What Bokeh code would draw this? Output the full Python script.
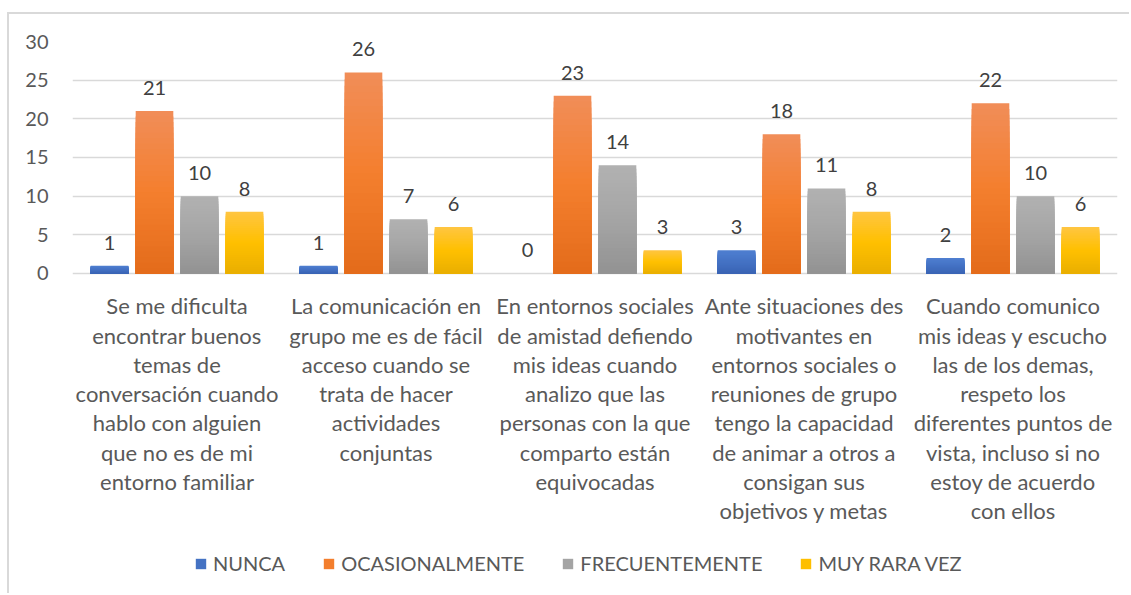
import numpy as np
from bokeh.plotting import figure
from bokeh.models import ColumnDataSource, Legend, LegendItem, FixedTicker, Range1d
from bokeh.embed import file_html
from bokeh.resources import INLINE
from bokeh.core.properties import value

# ---------------- data ----------------
categories = [
    "Se me dificulta\nencontrar buenos\ntemas de\nconversación cuando\nhablo con alguien\nque no es de mi\nentorno familiar",
    "La comunicación en\ngrupo me es de fácil\nacceso cuando se\ntrata de hacer\nactividades\nconjuntas",
    "En entornos sociales\nde amistad defiendo\nmis ideas cuando\nanalizo que las\npersonas con la que\ncomparto están\nequivocadas",
    "Ante situaciones des\nmotivantes en\nentornos sociales o\nreuniones de grupo\ntengo la capacidad\nde animar a otros a\nconsigan sus\nobjetivos y metas",
    "Cuando comunico\nmis ideas y escucho\nlas de los demas,\nrespeto los\ndiferentes puntos de\nvista, incluso si no\nestoy de acuerdo\ncon ellos",
]
series_names = ["NUNCA", "OCASIONALMENTE", "FRECUENTEMENTE", "MUY RARA VEZ"]
nunca = [1, 1, 0, 3, 2]
ocasionalmente = [21, 26, 23, 18, 22]
frecuentemente = [10, 7, 14, 11, 10]
muy_rara_vez = [8, 6, 3, 8, 6]
y_ticks = [0, 5, 10, 15, 20, 25, 30]

series_values = [nunca, ocasionalmente, frecuentemente, muy_rara_vez]
# gradient stops (top, middle, bottom)
gradients = [
    ("#4F7FD0", "#4472C4", "#3A64B4"),
    ("#F18D57", "#F47F2E", "#E46C1B"),
    ("#B1B1B1", "#A5A5A5", "#939393"),
    ("#FFC540", "#FFC000", "#EAAF00"),
]

FONT = "Lato"
TEXT_COL = "#595959"


def hex2rgb(h):
    h = h.lstrip("#")
    return np.array([int(h[i:i + 2], 16) for i in (0, 2, 4)], dtype=float)


def rgb2hex(c):
    return "#%02X%02X%02X" % tuple(int(round(v)) for v in c)


def interp(stops, t):
    a, b, c = [hex2rgb(s) for s in stops]
    if t <= 0.5:
        return rgb2hex(a + (b - a) * (t / 0.5))
    return rgb2hex(b + (c - b) * ((t - 0.5) / 0.5))


Y_MAX = 30
Y_MIN = -41.64   # room below zero for category labels and legend

p = figure(
    width=1122, height=581,
    x_range=Range1d(-0.5, len(categories) - 0.5),
    y_range=Range1d(Y_MIN, Y_MAX),
    x_axis_location=None,
    output_backend="svg", toolbar_location=None,
    min_border_left=63, min_border_right=14, min_border_top=27, min_border_bottom=0,
)
p.margin = (12, 0, 0, 7)
p.styles = {"border-top": "2px solid #D9D9D9", "border-left": "2px solid #D9D9D9"}
p.outline_line_color = None
p.background_fill_color = "white"
p.border_fill_color = "white"

p.xgrid.grid_line_color = None
p.ygrid.grid_line_color = "#D9D9D9"
p.ygrid.grid_line_width = 1.5
p.ygrid.ticker = FixedTicker(ticks=y_ticks)
p.yaxis.ticker = FixedTicker(ticks=y_ticks)

p.yaxis.axis_line_color = None
p.yaxis.major_tick_line_color = None
p.yaxis.minor_tick_line_color = None
p.yaxis.major_tick_out = 0
p.yaxis.major_tick_in = 0
p.yaxis.major_label_text_font = FONT
p.yaxis.major_label_text_font_size = "20px"
p.yaxis.major_label_text_color = TEXT_COL
p.yaxis.major_label_standoff = 24

step = 0.2153
bar_w = 0.18
N = 30
legend_items = []
x0 = np.arange(len(categories), dtype=float)
for j, (name, vals, stops) in enumerate(zip(series_names, series_values, gradients)):
    xs = x0 + (j - 1.5) * step
    vals = np.array(vals, dtype=float)
    mid_r = None
    for k in range(N):
        frac = (N - k) / N
        t = k / (N - 1)
        col = interp(stops, t)
        src = ColumnDataSource(dict(x=xs, top=vals * frac))
        r = p.vbar(x="x", top="top", bottom=0, width=bar_w, source=src,
                   fill_color=col, line_color=None)
        if k == N // 2:
            mid_r = r
    legend_items.append(LegendItem(label=name, renderers=[mid_r]))
    lab_src = ColumnDataSource(dict(x=xs, y=vals, t=[str(int(v)) for v in vals]))
    p.text(x="x", y="y", text="t", source=lab_src, text_align="center",
           text_baseline="bottom", y_offset=-16, text_font=value(FONT),
           text_font_size="20px", text_color="#404040")

# category labels under the bars
cat_src = ColumnDataSource(dict(x=x0, y=np.zeros(len(categories)), t=categories))
p.text(x="x", y="y", text="t", source=cat_src, text_align="center",
       text_baseline="top", y_offset=19, text_font=value(FONT),
       text_font_size="22px", text_color=TEXT_COL, text_line_height=1.082)

legend = Legend(items=legend_items, orientation="horizontal", location=(122, 20))
legend.label_text_font = FONT
legend.label_text_font_size = "20px"
legend.label_text_color = TEXT_COL
legend.glyph_width = 13
legend.glyph_height = 13
legend.label_standoff = 6
legend.spacing = 37
legend.border_line_color = None
legend.background_fill_alpha = 0
legend.margin = 0
legend.padding = 0
p.add_layout(legend, "center")

open("out.html", "w").write(file_html(p, INLINE))
